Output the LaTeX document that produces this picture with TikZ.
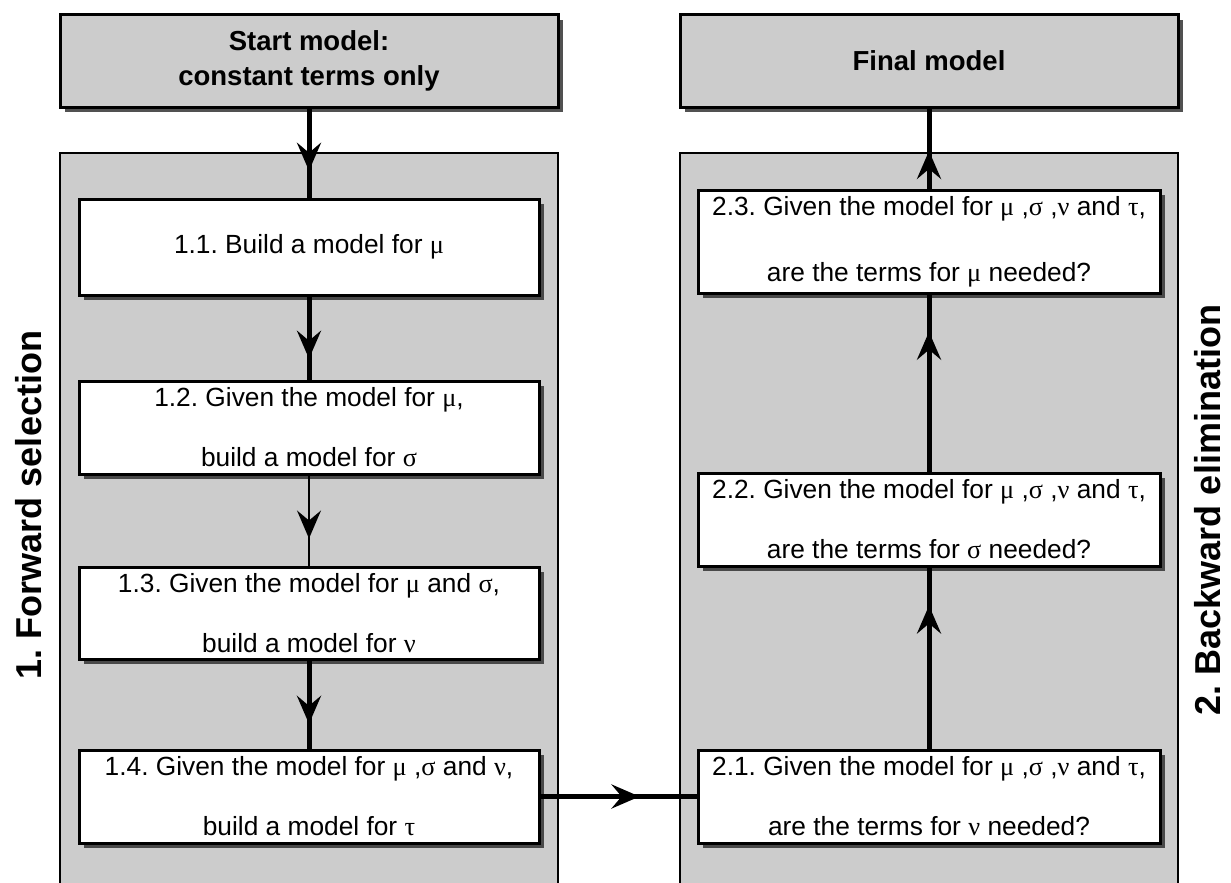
\documentclass[tikz,border=0pt]{standalone}
\usepackage{fontspec}
\setmainfont{Liberation Sans}
\newfontfamily\grkfont{Liberation Serif}
\usetikzlibrary{arrows.meta,decorations.markings,shadows}
\newcommand{\gk}[1]{{\grkfont #1}}
\definecolor{panelgray}{HTML}{CCCCCC}
\frenchspacing
\begin{document}
\frenchspacing
\begin{tikzpicture}[x=1pt,y=-1pt,
  boxshadow/.style={drop shadow={shadow xshift=5pt, shadow yshift=-5pt, fill=black!80, opacity=0.85}},
  topbox/.style={draw=black, line width=3pt, fill=panelgray, inner sep=0pt,
    minimum width=498pt, minimum height=92pt, align=center,
    font=\fontsize{27.5}{35}\selectfont\bfseries, boxshadow},
  stepbox/.style={draw=black, line width=3pt, fill=white, inner sep=0pt,
    minimum width=460pt, minimum height=93pt, align=center,
    font=\fontsize{26.3}{60}\selectfont, boxshadow},
  rstepbox/.style={stepbox, minimum width=462pt},
  panelbox/.style={fill=panelgray, draw=none, inner sep=0pt, minimum width=498pt, minimum height=730pt},
  panelline/.style={draw=black, line width=2.5pt},
  sidelabel/.style={inner sep=0pt, font=\fontsize{36}{40}\selectfont\bfseries, rotate=90},
  flow/.style={draw=black, line width=5pt, postaction={decorate},
    decoration={markings, mark=at position #1 with {\arrow{Stealth[length=28pt, width=24pt, inset=10pt]}}}},
  thinflow/.style={flow=#1, line width=2pt}
]
\useasboundingbox (0,0) rectangle (1231,883);

% panels
\node[panelbox] (lp) at (309,518) {};
\node[panelbox] (rp) at (929,518) {};
\draw[panelline] (lp.south west) -- (lp.north west) -- (lp.north east) -- (lp.south east);
\draw[panelline] (rp.south west) -- (rp.north west) -- (rp.north east) -- (rp.south east);

% side labels
\node[sidelabel] (fs) at (29,505) {1. Forward selection};
\node[sidelabel] (be) at (1208,510) {2. Backward elimination};

% top boxes
\node[topbox] (start) at (309,61) {Start model:\\constant terms only};
\node[topbox] (final) at (929,61) {Final model};

% left steps
\node[stepbox, minimum height=96pt] (b11) at (309,247) {1.1. Build a model for \gk{μ}};
\node[stepbox] (b12) at (309,427.5) {1.2. Given the model for \gk{μ},\\build a model for \gk{σ}};
\node[stepbox, minimum height=92pt] (b13) at (309,613) {1.3. Given the model for \gk{μ} and \gk{σ},\\build a model for \gk{ν}};
\node[stepbox] (b14) at (309,796.5) {1.4. Given the model for \gk{μ} ,\gk{σ} and \gk{ν},\\build a model for \gk{τ}};

% right steps
\node[rstepbox, minimum height=103pt, font=\fontsize{26.3}{66}\selectfont] (b23) at (929,241.5) {2.3. Given the model for \gk{μ} ,\gk{σ} ,\gk{ν} and \gk{τ},\\are the terms for \gk{μ} needed?};
\node[rstepbox] (b22) at (929,519.5) {2.2. Given the model for \gk{μ} ,\gk{σ} ,\gk{ν} and \gk{τ},\\are the terms for \gk{σ} needed?};
\node[rstepbox] (b21) at (929,796.5) {2.1. Given the model for \gk{μ} ,\gk{σ} ,\gk{ν} and \gk{τ},\\are the terms for \gk{ν} needed?};

% connectors
\path[flow=0.7] (start.south) -- (b11.north);
\path[flow=0.75] (b11.south) -- (b12.north);
\path[thinflow=0.7] (b12.south) -- (b13.north);
\path[flow=0.72] (b13.south) -- (b14.north);
\path[flow=0.635] (b14.east) -- (b21.west);
\path[flow=0.79] (b21.north) -- (b22.south);
\path[flow=0.79] (b22.north) -- (b23.south);
\path[flow=0.47] (b23.north) -- (final.south);
\end{tikzpicture}
\end{document}
